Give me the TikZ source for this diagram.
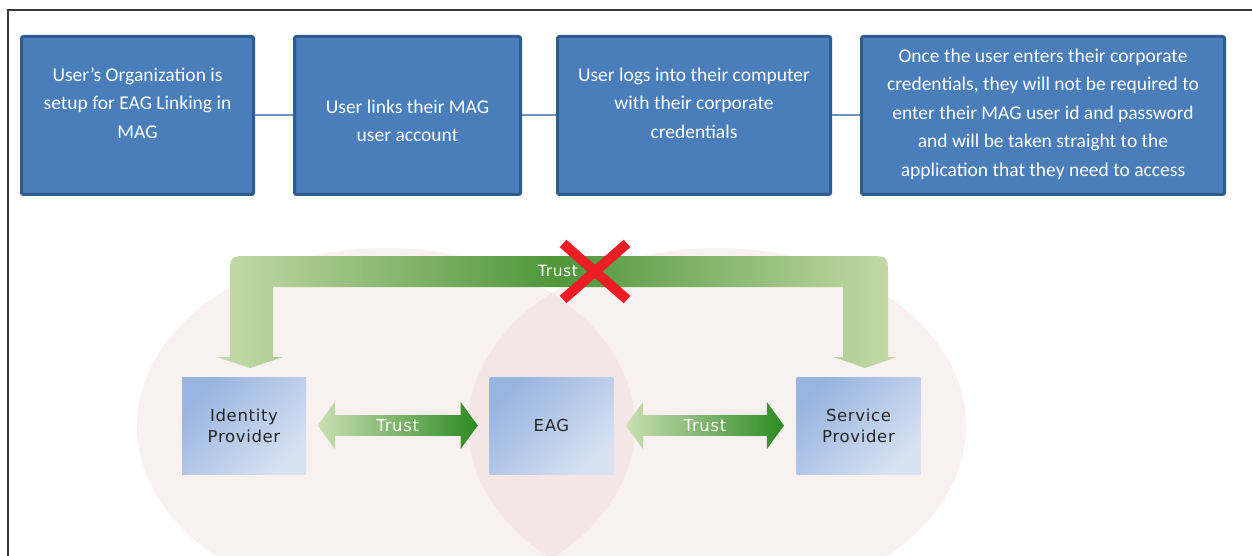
\documentclass[tikz,border=0pt]{standalone}
\usepackage{fontspec}
\setmainfont{Carlito}
\newfontfamily\dvw[LetterSpace=4]{DejaVu Sans}
\usetikzlibrary{shapes.arrows,calc}
\definecolor{boxfill}{HTML}{4A7EBB}
\definecolor{boxline}{HTML}{2F5B8E}
\definecolor{connc}{HTML}{6F92BA}
\definecolor{pinkc}{HTML}{E6C3BF}
\definecolor{lbA}{HTML}{98B4E0}
\definecolor{lbB}{HTML}{D7E1F2}
\definecolor{gl}{HTML}{CADFB2}
\definecolor{gd}{HTML}{2E8A22}
\definecolor{gtl}{HTML}{C6DBAA}
\definecolor{gtd}{HTML}{4E9638}
\definecolor{xred}{HTML}{EE1C24}
\definecolor{framec}{HTML}{3A3A3A}
\begin{document}
\begin{tikzpicture}[x=1pt,y=-1pt,
  stepbox/.style={draw=boxline, line width=3pt, fill=boxfill, rounded corners=2pt, minimum height=158pt, inner sep=0pt},
  steptext/.style={text=white, align=center, font=\fontsize{19.5}{28.5}\selectfont, inner sep=0pt},
  conn/.style={draw=connc, line width=2pt},
  ent/.style={top color=lbA, bottom color=lbB, shading angle=45, minimum width=124pt, minimum height=97pt, inner sep=0pt, align=center, font=\dvw\fontsize{16.5}{21}\selectfont, text=black!85},
  trustarr/.style={double arrow, double arrow head extend=8pt, double arrow tip angle=108, minimum width=47pt, minimum height=#1, inner sep=0pt, left color=gl, right color=gd, text=white, font=\dvw\fontsize{16.5}{18}\selectfont},
  bubble/.style={fill=pinkc, fill opacity=0.22}
]
\useasboundingbox (0,0) rectangle (1252,556);
\fill[white] (0,0) rectangle (1252,556);
% frame
\draw[framec, line width=1.5pt] (8,556) -- (8,10) -- (1252,10);

% top step boxes
\node[stepbox, minimum width=232pt] (b1) at (137.5,115.5) {};
\node[stepbox, minimum width=226pt] (b2) at (407.5,115.5) {};
\node[stepbox, minimum width=273pt] (b3) at (694,115.5) {};
\node[stepbox, minimum width=363pt] (b4) at (1043,115.5) {};
\draw[conn] (b1) -- (b2);
\draw[conn] (b2) -- (b3);
\draw[conn] (b3) -- (b4);
\node[steptext] (t1) at (137.5,103) {User’s Organization is\\setup for EAG Linking in\\MAG};
\node[steptext] (t2) at (407.5,121) {User links their MAG\\user account};
\node[steptext] (t3) at (694,103) {User logs into their computer\\with their corporate\\credentials};
\node[steptext] (t4) at (1043,114) {Once the user enters their corporate\\credentials, they will not be required to\\enter their MAG user id and password\\and will be taken straight to the\\application that they need to access};

% bubbles
\fill[bubble] (386,426) ellipse [x radius=249, y radius=178];
\fill[bubble] (717,426) ellipse [x radius=249, y radius=178];

% entity boxes
\node[ent] (idp) at (244,425.5) {Identity\\Provider};
\node[ent] (eag) at (551.5,425.5) {EAG};
\node[ent] (sp) at (858.5,425.5) {Service\\Provider};

% trust double arrows
\path (idp.east) -- (eag.west) node[midway, trustarr=160pt] (tr1) {Trust};
\path (eag.east) -- (sp.west) node[midway, trustarr=158pt] (tr2) {Trust};

% top bent arrows
\coordinate (seamT) at (557,256);
\coordinate (seamB) at (557,287);
\shade[left color=gtl, right color=gtd] (seamT) -- (250,256) .. controls (230,256) .. (230,276) -- (230,357) -- (217,357) -- (250,368) -- (283,357) -- (273,357) -- (273,287) -- (seamB) -- cycle;
\shade[left color=gtd, right color=gtl] (seamT) -- (868,256) .. controls (888,256) .. (888,276) -- (888,357) -- (897,357) -- (865,368) -- (834,357) -- (843,357) -- (843,287) -- (seamB) -- cycle;
\node[text=white, font=\dvw\fontsize{15.5}{17}\selectfont] (ttop) at (558,271) {Trust};

% red cross
\coordinate (xc) at (595,271.5);
\draw[xred, line width=10pt] ($(xc)+(-32,-28)$) -- ($(xc)+(32,28)$);
\draw[xred, line width=10pt] ($(xc)+(32,-28)$) -- ($(xc)+(-32,28)$);
\end{tikzpicture}
\end{document}
